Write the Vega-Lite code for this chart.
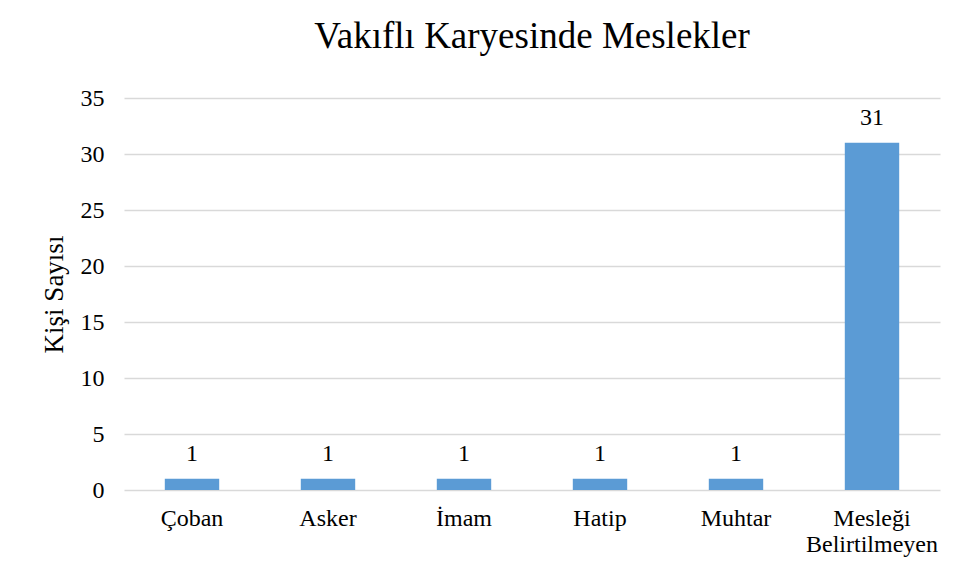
{
  "$schema": "https://vega.github.io/schema/vega-lite/v6.json",
  "width": 816,
  "height": 392,
  "autosize": "none",
  "padding": {"left": 124, "top": 98, "right": 20, "bottom": 89},
  "background": "white",
  "config": {
    "view": {"stroke": null},
    "font": "Liberation Serif"
  },
  "title": {
    "text": "Vakıflı Karyesinde Meslekler",
    "font": "Liberation Serif",
    "fontSize": 37,
    "fontWeight": "normal",
    "color": "#000000",
    "anchor": "middle",
    "offset": 30
  },
  "data": {
    "values": [
      {"meslek": "Çoban", "sayi": 1},
      {"meslek": "Asker", "sayi": 1},
      {"meslek": "İmam", "sayi": 1},
      {"meslek": "Hatip", "sayi": 1},
      {"meslek": "Muhtar", "sayi": 1},
      {"meslek": "Mesleği Belirtilmeyen", "sayi": 31}
    ]
  },
  "encoding": {
    "x": {
      "field": "meslek",
      "type": "nominal",
      "sort": null,
      "scale": {"paddingInner": 0.6, "paddingOuter": 0.3},
      "axis": {
        "title": null,
        "labelAngle": 0,
        "labelFont": "Liberation Serif",
        "labelFontSize": 24,
        "labelColor": "#000000",
        "labelPadding": 16,
        "labelLineHeight": 26,
        "labelExpr": "datum.label == 'Mesleği Belirtilmeyen' ? ['Mesleği', 'Belirtilmeyen'] : datum.label",
        "ticks": false,
        "domain": false
      }
    },
    "y": {
      "field": "sayi",
      "type": "quantitative",
      "scale": {"domain": [0, 35], "nice": false},
      "axis": {
        "title": "Kişi Sayısı",
        "titleFont": "Liberation Serif",
        "titleFontSize": 27,
        "titleFontWeight": "normal",
        "titleColor": "#000000",
        "titlePadding": 12,
        "values": [0, 5, 10, 15, 20, 25, 30, 35],
        "labelFont": "Liberation Serif",
        "labelFontSize": 24,
        "labelColor": "#000000",
        "labelPadding": 20,
        "ticks": false,
        "domain": false,
        "grid": true,
        "gridColor": "#D9D9D9",
        "gridWidth": 1.3
      }
    }
  },
  "layer": [
    {"mark": {"type": "bar", "color": "#5B9BD5"}},
    {
      "mark": {"type": "text", "dy": -13, "baseline": "bottom", "font": "Liberation Serif", "fontSize": 24, "color": "#000000"},
      "encoding": {"text": {"field": "sayi", "type": "quantitative"}}
    }
  ]
}
